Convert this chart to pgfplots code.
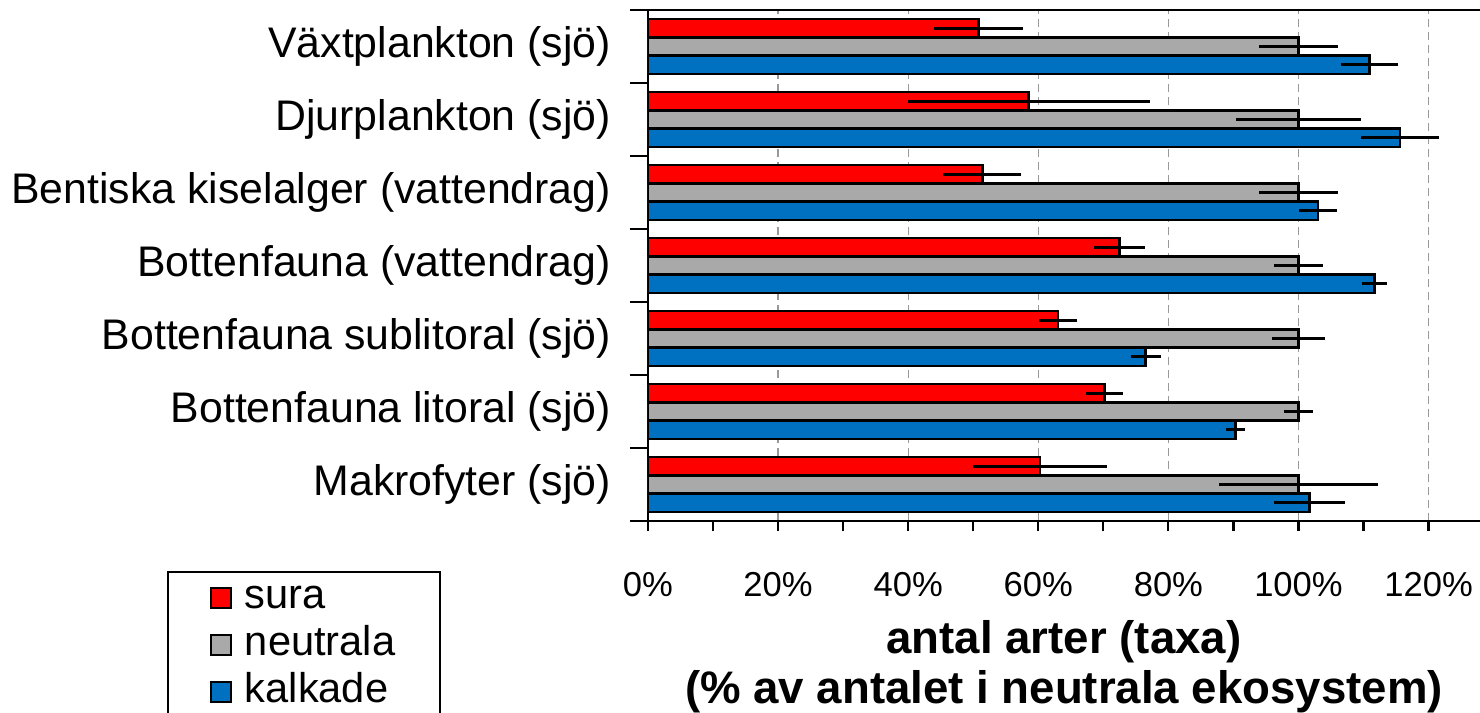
\documentclass[border=0pt]{standalone}
\usepackage{pgfplots}
\pgfplotsset{compat=1.18}
\usepackage{fontspec}
\setmainfont{Liberation Sans}
\definecolor{cred}{HTML}{FF0000}
\definecolor{cgray}{HTML}{A9A9A9}
\definecolor{cblue}{HTML}{0070C0}
\begin{document}
\begin{tikzpicture}
\begin{axis}[
  at={(0,0)}, anchor=south west,
  scale only axis, width=416pt, height=255.5pt,
  xmin=0, xmax=127.9, ymin=-0.5, ymax=6.5,
  axis x line=box, axis y line=left,
  axis line style={-, line width=1.1pt, black},
  xtick={0,20,...,120},
  xticklabels={0\%,20\%,40\%,60\%,80\%,100\%,120\%},
  minor xtick={0,10,...,120},
  xtick pos=bottom, ytick pos=left,
  tick align=outside,
  major tick length=9pt, minor tick length=5pt,
  tick style={line width=1.1pt, black},
  major x tick style={draw=none},
  xmajorgrids,
  major grid style={draw=black!40, dash pattern=on 4pt off 2.5pt, line width=0.6pt},
  ytick={-0.5,0.5,...,6.5},
  yticklabels={},
  extra y ticks={0,1,2,3,4,5,6},
  extra y tick labels={Makrofyter (sjö),Bottenfauna litoral (sjö),Bottenfauna sublitoral (sjö),Bottenfauna (vattendrag),Bentiska kiselalger (vattendrag),Djurplankton (sjö),Växtplankton (sjö)},
  extra y tick style={major tick length=0pt, yticklabel style={font=\fontsize{21.4}{24}\selectfont, anchor=east, xshift=-15pt}},
  xticklabel style={font=\fontsize{17.3}{20}\selectfont, yshift=-13pt},
  xlabel={antal arter (taxa)\\(\% av antalet i neutrala ekosystem)},
  xlabel style={at={(axis description cs:0.5,-0.286)}, anchor=center, align=center, font=\bfseries\fontsize{22.8}{25}\selectfont},
  xbar, bar width=0.25,
  error bars/error bar style={line width=1.4pt, black},
  error bars/error mark=none,
  legend style={at={(axis description cs:-0.578,-0.098)}, anchor=north west, draw=black, line width=1pt, font=\fontsize{20.8}{23}\selectfont, inner xsep=21pt, inner ysep=1.75pt, row sep=1pt, column sep=5pt, nodes={inner sep=1.5pt, text height=15pt, text depth=4.5pt}},
  legend cell align=left,
  legend image code/.code={\draw[#1, line width=0.9pt] (0pt,-5pt) rectangle (10pt,5pt);},
]
\addplot[fill=cred, draw=black, line width=1.2pt, bar shift=0.25,
  error bars/.cd, x dir=both, x explicit]
  coordinates {(50.8,6) +- (6.9,0) (58.5,5) +- (18.6,0) (51.4,4) +- (6.0,0) (72.5,3) +- (3.9,0) (63.0,2) +- (2.9,0) (70.2,1) +- (2.8,0) (60.3,0) +- (10.3,0)};
\addplot[fill=cgray, draw=black, line width=1.2pt, bar shift=0,
  error bars/.cd, x dir=both, x explicit]
  coordinates {(100,6) +- (6.0,0) (100,5) +- (9.6,0) (100,4) +- (6.0,0) (100,3) +- (3.8,0) (100,2) +- (4.0,0) (100,1) +- (2.2,0) (100,0) +- (12.2,0)};
\addplot[fill=cblue, draw=black, line width=1.2pt, bar shift=-0.25,
  error bars/.cd, x dir=both, x explicit]
  coordinates {(110.9,6) +- (4.4,0) (115.6,5) +- (6.0,0) (103.0,4) +- (2.9,0) (111.7,3) +- (1.9,0) (76.5,2) +- (2.3,0) (90.3,1) +- (1.5,0) (101.7,0) +- (5.5,0)};
\legend{sura,neutrala,kalkade}
\end{axis}
\pgfresetboundingbox
\path (-324pt,-96pt) rectangle (416pt,260.5pt);
\end{tikzpicture}
\end{document}
